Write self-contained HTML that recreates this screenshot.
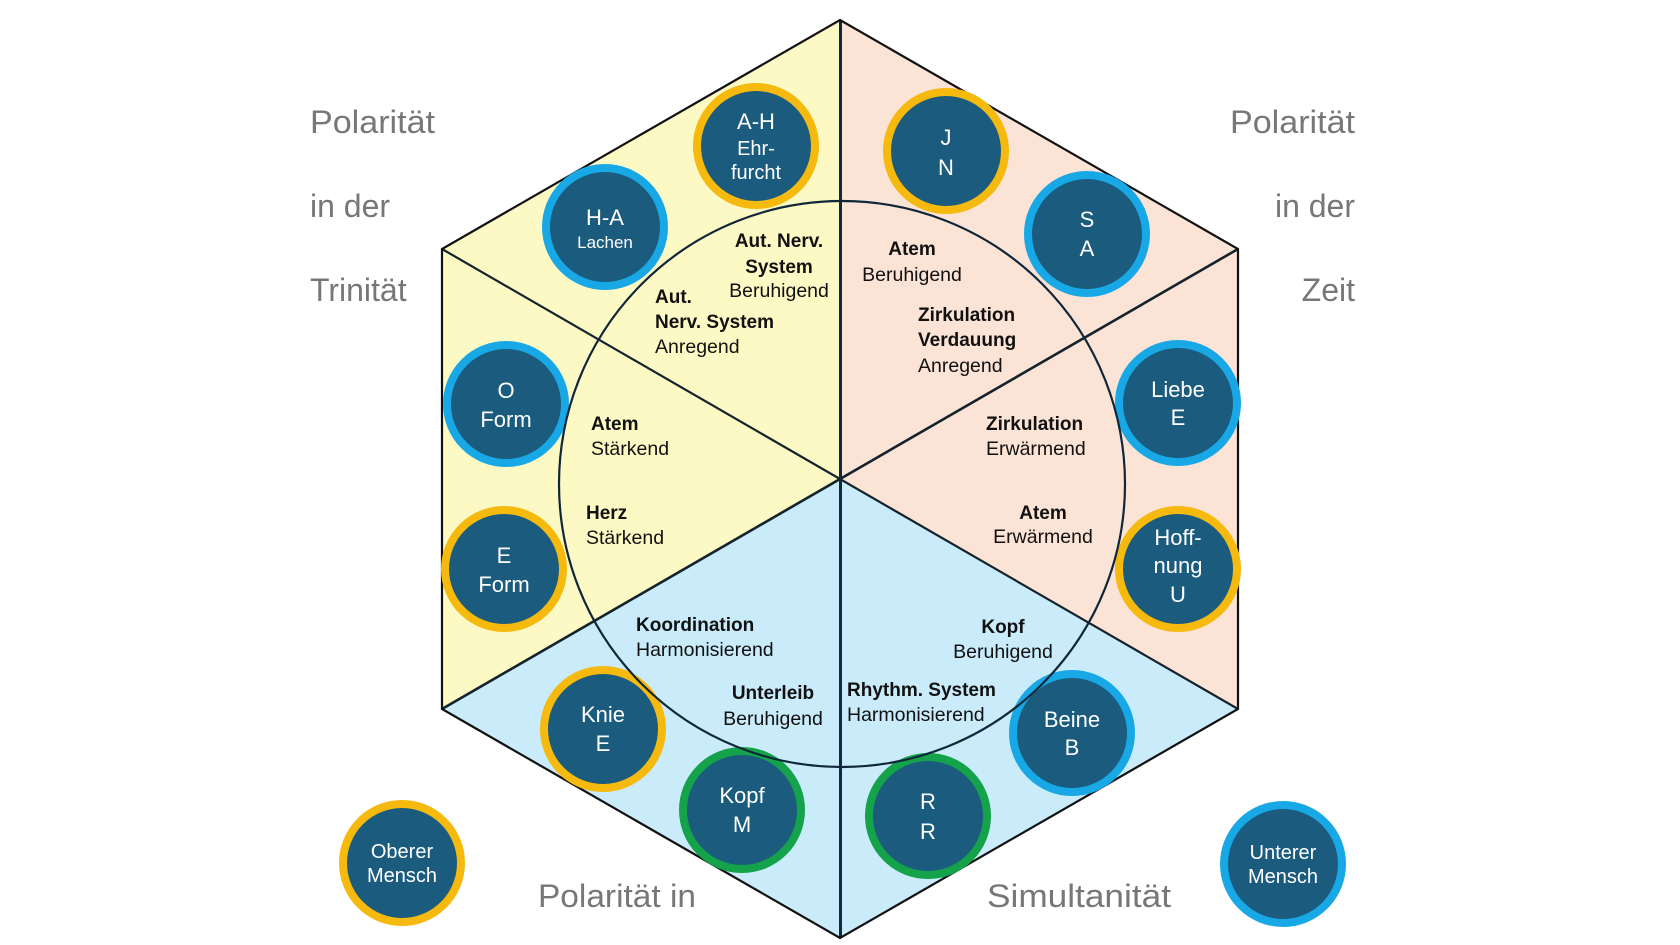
<!DOCTYPE html>
<html>
<head>
<meta charset="utf-8">
<style>
  html, body { margin: 0; padding: 0; background: #ffffff; }
  svg { display: block; }
  .g { font-family: "Liberation Sans", sans-serif; font-size: 32px; fill: #777777; }
  .b { font-family: "Liberation Sans", sans-serif; font-size: 19px; font-weight: bold; fill: #111111; }
  .r { font-family: "Liberation Sans", sans-serif; font-size: 19.5px; fill: #111111; }
  .w { font-family: "Liberation Sans", sans-serif; font-size: 22px; fill: #ffffff; text-anchor: middle; }
  .ws { font-family: "Liberation Sans", sans-serif; font-size: 20px; fill: #ffffff; text-anchor: middle; }
  .wx { font-family: "Liberation Sans", sans-serif; font-size: 17px; fill: #ffffff; text-anchor: middle; }
  .m { text-anchor: middle; }
  .e { text-anchor: end; }
</style>
</head>
<body>
<svg width="1680" height="945" viewBox="0 0 1680 945" xmlns="http://www.w3.org/2000/svg">
  <rect width="1680" height="945" fill="#ffffff"/>

  <!-- hexagon sectors -->
  <polygon points="840,20 442,249 840,479" fill="#fdf9c4"/>
  <polygon points="442,249 442,709 840,479" fill="#fdf9c4"/>
  <polygon points="840,20 1238,249 840,479" fill="#fbe3d6"/>
  <polygon points="1238,249 1238,709 840,479" fill="#fbe3d6"/>
  <polygon points="442,709 840,938 840,479" fill="#c9ebfa"/>
  <polygon points="840,938 1238,709 840,479" fill="#c9ebfa"/>

  <!-- lines -->
  <line x1="442" y1="249" x2="1238" y2="709" stroke="#14222c" stroke-width="2.2"/>
  <line x1="1238" y1="249" x2="442" y2="709" stroke="#14222c" stroke-width="2.6"/>
  <line x1="840.5" y1="20" x2="840.5" y2="938" stroke="#0e2a3c" stroke-width="3"/>
  <polygon points="840,20 1238,249 1238,709 840,938 442,709 442,249" fill="none" stroke="#111111" stroke-width="2.2" stroke-linejoin="miter"/>

  <!-- small circles -->
  <g stroke-width="8" fill="#1a5b7e">
    <circle cx="756" cy="146" r="59" stroke="#f6b90d"/>
    <circle cx="605" cy="227" r="59" stroke="#18a8e6"/>
    <circle cx="946" cy="151" r="59" stroke="#f6b90d"/>
    <circle cx="1087" cy="234" r="59" stroke="#18a8e6"/>
    <circle cx="506" cy="404" r="59" stroke="#18a8e6"/>
    <circle cx="1178" cy="403" r="59" stroke="#18a8e6"/>
    <circle cx="504" cy="569" r="59" stroke="#f6b90d"/>
    <circle cx="1178" cy="569" r="59" stroke="#f6b90d"/>
    <circle cx="603" cy="729" r="59" stroke="#f6b90d"/>
    <circle cx="742" cy="810" r="59" stroke="#14a34a"/>
    <circle cx="928" cy="816" r="59" stroke="#14a34a"/>
    <circle cx="1072" cy="733" r="59" stroke="#18a8e6"/>
    <circle cx="402" cy="863" r="59" stroke="#f6b90d"/>
    <circle cx="1283" cy="864" r="59" stroke="#18a8e6"/>
  </g>

  <!-- big circle -->
  <circle cx="842" cy="484" r="283" fill="none" stroke="#10273a" stroke-width="2.2"/>

  <!-- circle texts -->
  <text class="w" x="756" y="129">A-H</text>
  <text class="ws" x="756" y="155">Ehr-</text>
  <text class="ws" x="756" y="179">furcht</text>

  <text class="w" x="605" y="225">H-A</text>
  <text class="wx" x="605" y="248">Lachen</text>

  <text class="w" x="946" y="145">J</text>
  <text class="w" x="946" y="175">N</text>

  <text class="w" x="1087" y="227">S</text>
  <text class="w" x="1087" y="256">A</text>

  <text class="w" x="506" y="398">O</text>
  <text class="w" x="506" y="427">Form</text>

  <text class="w" x="1178" y="397">Liebe</text>
  <text class="w" x="1178" y="425">E</text>

  <text class="w" x="504" y="563">E</text>
  <text class="w" x="504" y="592">Form</text>

  <text class="w" x="1178" y="545">Hoff-</text>
  <text class="w" x="1178" y="573">nung</text>
  <text class="w" x="1178" y="602">U</text>

  <text class="w" x="603" y="722">Knie</text>
  <text class="w" x="603" y="751">E</text>

  <text class="w" x="742" y="803">Kopf</text>
  <text class="w" x="742" y="832">M</text>

  <text class="w" x="928" y="809">R</text>
  <text class="w" x="928" y="839">R</text>

  <text class="w" x="1072" y="727">Beine</text>
  <text class="w" x="1072" y="755">B</text>

  <text class="ws" x="402" y="858">Oberer</text>
  <text class="ws" x="402" y="882">Mensch</text>

  <text class="ws" x="1283" y="859">Unterer</text>
  <text class="ws" x="1283" y="883">Mensch</text>

  <!-- inner labels -->
  <text class="b m" x="779" y="247">Aut. Nerv.</text>
  <text class="b m" x="779" y="273">System</text>
  <text class="r m" x="779" y="297">Beruhigend</text>

  <text class="b" x="655" y="303">Aut.</text>
  <text class="b" x="655" y="328">Nerv. System</text>
  <text class="r" x="655" y="353">Anregend</text>

  <text class="b m" x="912" y="255">Atem</text>
  <text class="r m" x="912" y="281">Beruhigend</text>

  <text class="b" x="918" y="321">Zirkulation</text>
  <text class="b" x="918" y="346">Verdauung</text>
  <text class="r" x="918" y="372">Anregend</text>

  <text class="b" x="986" y="430">Zirkulation</text>
  <text class="r" x="986" y="455">Erwärmend</text>

  <text class="b m" x="1043" y="519">Atem</text>
  <text class="r m" x="1043" y="543">Erwärmend</text>

  <text class="b" x="591" y="430">Atem</text>
  <text class="r" x="591" y="455">Stärkend</text>

  <text class="b" x="586" y="519">Herz</text>
  <text class="r" x="586" y="544">Stärkend</text>

  <text class="b" x="636" y="631">Koordination</text>
  <text class="r" x="636" y="656">Harmonisierend</text>

  <text class="b m" x="773" y="699">Unterleib</text>
  <text class="r m" x="773" y="725">Beruhigend</text>

  <text class="b m" x="1003" y="633">Kopf</text>
  <text class="r m" x="1003" y="658">Beruhigend</text>

  <text class="b" x="847" y="696">Rhythm. System</text>
  <text class="r" x="847" y="721">Harmonisierend</text>

  <!-- gray side labels -->
  <text class="g" x="310" y="133" textLength="125" lengthAdjust="spacingAndGlyphs">Polarität</text>
  <text class="g" x="310" y="217">in der</text>
  <text class="g" x="310" y="301">Trinität</text>

  <text class="g e" x="1355" y="133" textLength="125" lengthAdjust="spacingAndGlyphs">Polarität</text>
  <text class="g e" x="1355" y="217">in der</text>
  <text class="g e" x="1355" y="301">Zeit</text>

  <text class="g" x="538" y="907" textLength="158" lengthAdjust="spacingAndGlyphs">Polarität in</text>
  <text class="g" x="987" y="907" textLength="184" lengthAdjust="spacingAndGlyphs">Simultanität</text>
</svg>
</body>
</html>
